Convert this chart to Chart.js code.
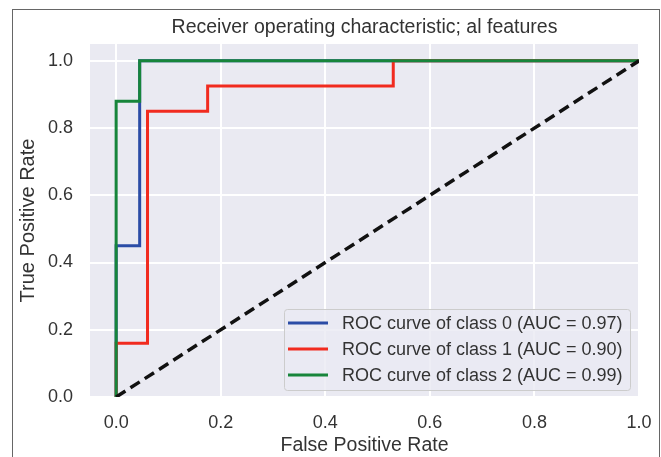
<!DOCTYPE html>
<html>
<head>
<meta charset="utf-8">
<script src="https://cdn.jsdelivr.net/npm/chart.js@4.4.1/dist/chart.umd.min.js"></script>
<style>
  html, body { margin:0; padding:0; background:#fff; overflow:hidden; }
  #wrap { position:relative; width:661px; height:457px; }
  #frame { position:absolute; left:12px; top:9px; width:646px; height:470px; border:1px solid #666; }
  canvas { position:absolute; left:0; top:0; }
</style>
</head>
<body>
<div id="wrap">
  <div id="frame"></div>
  <canvas id="roc" width="661" height="457"></canvas>
</div>
<script>
// ROC curves (FPR, TPR corner points)
const class0Fpr = [0, 0, 0.045, 0.045, 1.0];
const class0Tpr = [0, 0.45, 0.45, 1.0, 1.0];
const class1Fpr = [0, 0, 0.06, 0.06, 0.175, 0.175, 0.53, 0.53, 1.0];
const class1Tpr = [0, 0.16, 0.16, 0.85, 0.85, 0.925, 0.925, 1.0, 1.0];
const class2Fpr = [0, 0, 0.045, 0.045, 1.0];
const class2Tpr = [0, 0.88, 0.88, 1.0, 1.0];
const chanceFpr = [0, 1];
const chanceTpr = [0, 1];

const legendLabels = [
    'ROC curve of class 0 (AUC = 0.97)',
    'ROC curve of class 1 (AUC = 0.90)',
    'ROC curve of class 2 (AUC = 0.99)'
];
const xTicks = [0.0, 0.2, 0.4, 0.6, 0.8, 1.0];
const yTicks = [0.0, 0.2, 0.4, 0.6, 0.8, 1.0];

const colors = ['#2b4ca6', '#f12b1f', '#17853b'];
const FONT = "'Liberation Sans', Arial, sans-serif";
const TXT = '#333333';

const pts = (xs, ys) => xs.map((x, i) => ({x, y: ys[i]}));

const bgPlugin = {
    id: 'plotBg',
    beforeDraw(chart) {
        const {ctx, chartArea: a} = chart;
        ctx.save();
        ctx.fillStyle = '#EAEAF2';
        ctx.fillRect(a.left, a.top, a.right - a.left, a.bottom - a.top);
        ctx.restore();
    }
};

// legend sits inside the axes, lower right, like matplotlib's loc="lower right"
const legendPlugin = {
    id: 'innerLegend',
    afterDraw(chart) {
        const {ctx} = chart;
        const x0 = 284, y0 = 309, w = 346, h = 81;
        ctx.save();
        ctx.fillStyle = 'rgba(234,234,242,0.8)';
        ctx.strokeStyle = '#cccccc';
        ctx.lineWidth = 1;
        ctx.beginPath();
        ctx.roundRect(x0 + 0.5, y0 + 0.5, w, h, 3);
        ctx.fill();
        ctx.stroke();
        ctx.font = '18px ' + FONT;
        ctx.textBaseline = 'middle';
        legendLabels.forEach((lab, i) => {
            const yy = y0 + 14 + i * 26;
            ctx.strokeStyle = colors[i];
            ctx.lineWidth = 3;
            ctx.beginPath();
            ctx.moveTo(288, yy);
            ctx.lineTo(328, yy);
            ctx.stroke();
            ctx.fillStyle = TXT;
            ctx.fillText(lab, 342, yy + 1);
        });
        ctx.restore();
    }
};

const line = (label, data, color, order) => ({
    label, data, borderColor: color, backgroundColor: color,
    borderWidth: 3, pointRadius: 0, tension: 0, fill: false, order
});

new Chart(document.getElementById('roc'), {
    type: 'line',
    data: {
        datasets: [
            line(legendLabels[0], pts(class0Fpr, class0Tpr), colors[0], 3),
            line(legendLabels[1], pts(class1Fpr, class1Tpr), colors[1], 2),
            line(legendLabels[2], pts(class2Fpr, class2Tpr), colors[2], 1),
            {
                label: 'chance', data: pts(chanceFpr, chanceTpr),
                borderColor: '#111111', borderWidth: 3.5, borderDash: [11, 6],
                pointRadius: 0, fill: false, order: 0
            }
        ]
    },
    options: {
        responsive: false,
        animation: false,
        layout: { padding: { left: 0, right: 22, top: 0, bottom: 0 } },
        plugins: {
            legend: { display: false },
            tooltip: { enabled: false },
            title: {
                display: true,
                fullSize: false,
                text: 'Receiver operating characteristic; al features',
                color: TXT,
                font: { family: FONT, size: 19.5, weight: 'normal' },
                padding: { top: 16, bottom: 4.6 }
            }
        },
        scales: {
            x: {
                type: 'linear',
                min: -0.05, max: 1.0,
                border: { display: false },
                grid: { color: '#ffffff', lineWidth: 2, drawTicks: false },
                afterBuildTicks: s => { s.ticks = xTicks.map(v => ({value: v})); },
                afterFit: s => { s.height = 60; s.paddingLeft = 0; s.paddingRight = 0; },
                ticks: {
                    color: TXT, padding: 15,
                    font: { family: FONT, size: 18 },
                    callback: v => v.toFixed(1)
                },
                title: {
                    display: true, text: 'False Positive Rate', color: TXT,
                    font: { family: FONT, size: 19.5 },
                    padding: { top: 0, bottom: 0 }
                }
            },
            y: {
                type: 'linear',
                min: 0, max: 1.05,
                border: { display: false },
                grid: { color: '#ffffff', lineWidth: 2, drawTicks: false },
                afterBuildTicks: s => { s.ticks = yTicks.map(v => ({value: v})); },
                afterFit: s => { s.width = 90; s.paddingTop = 0; s.paddingBottom = 0; },
                ticks: {
                    color: TXT, padding: 17,
                    font: { family: FONT, size: 18 },
                    callback: v => v.toFixed(1)
                },
                title: {
                    display: true, text: 'True Positive Rate', color: TXT,
                    font: { family: FONT, size: 20 },
                    padding: { top: 16, bottom: 0 }
                }
            }
        }
    },
    plugins: [bgPlugin, legendPlugin]
});
</script>
</body>
</html>
